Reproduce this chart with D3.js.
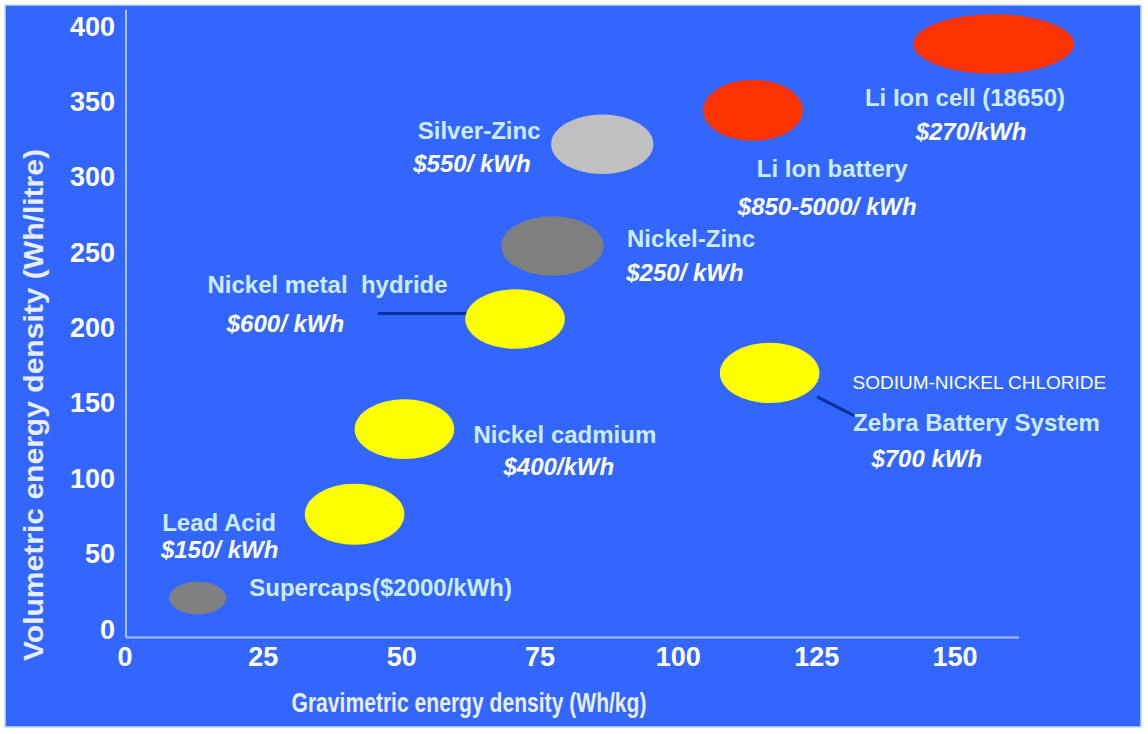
<!DOCTYPE html>
<html><head><meta charset="utf-8">
<script src="https://cdn.jsdelivr.net/npm/d3@7"></script>
<style>body{margin:0;background:#fff}</style>
</head><body><svg id="c" width="1148" height="734"></svg>
<script>
// ---- data ----
const batteries = ["Supercaps","Lead Acid","Nickel cadmium","Nickel metal hydride","Nickel-Zinc","Silver-Zinc","Li Ion battery","Li Ion cell (18650)","Zebra"];
const gravMin = [8, 32.5, 41.5, 61.5, 68, 77, 104.5, 142.5, 107.5];   // Wh/kg
const gravMax = [18.3, 50.5, 59.5, 79.5, 86.5, 95.5, 122.5, 171.5, 125.5];
const volMin  = [10.5, 56.5, 113.5, 186.5, 235, 302.5, 324.5, 369, 150.5]; // Wh/litre
const volMax  = [32, 97, 153, 226, 274.5, 342, 365, 408.5, 190.5];
const fills   = ["#808080","#FFFF00","#FFFF00","#FFFF00","#7F7F7F","#C0C0C0","#FF3300","#FF3300","#FFFF00"];
const xTicks = [0,25,50,75,100,125,150];
const yTicks = [0,50,100,150,200,250,300,350,400];
// annotation texts (anchor in data units)
const labelText = ["Li Ion cell (18650)","Li Ion battery","Silver-Zinc","Nickel-Zinc","Nickel metal  hydride","Nickel cadmium","Lead Acid","Supercaps($2000/kWh)","Zebra Battery System"];
const labelX = [151.8,127.8,64.0,102.3,36.6,79.5,17.0,46.2,153.9];
const labelY = [347.6,300.5,325.5,254.1,223.5,124.0,65.5,22.6,132.0];
const priceText = ["$270/kWh","$850-5000/ kWh","$550/ kWh","$250/ kWh","$600/ kWh","$400/kWh","$150/ kWh","$700 kWh"];
const priceX = [152.9,126.9,62.7,101.2,29.0,78.4,17.1,144.9];
const priceY = [325.0,275.3,303.8,231.6,197.7,102.8,48.0,108.1];
const noteText = ["SODIUM-NICKEL CHLORIDE"];
const noteX = [154.4], noteY = [159.9];
const leaders = [[[45.7,210.0],[61.8,210.0]],[[125.1,154.6],[131.9,142.0]]];

// ---- drawing ----
const svg = d3.select("#c");
const x = d3.scaleLinear().domain([0,150]).range([125,955]);
const y = d3.scaleLinear().domain([0,400]).range([630,27]);
const xEnd = x.invert(1019), yBot = y.invert(637.5), yTop = y.invert(9.5);
const font = "'Liberation Sans', Arial, sans-serif";

svg.append("rect").attr("x",5).attr("y",5).attr("width",1136).attr("height",722)
  .attr("fill","#3366FF").attr("stroke","#BFDDF7").attr("stroke-width",1.5);

// axis lines
svg.append("line").attr("x1",x(0)+1).attr("x2",x(0)+1).attr("y1",y(yTop)).attr("y2",y(yBot))
  .attr("stroke","#A9C1F2").attr("stroke-width",2);
svg.append("line").attr("x1",x(0)+1).attr("x2",x(xEnd)).attr("y1",y(yBot)).attr("y2",y(yBot))
  .attr("stroke","#A9C1F2").attr("stroke-width",2);

// tick labels
svg.append("g").selectAll("text").data(xTicks).join("text")
  .attr("x",d=>x(d)).attr("y",666).attr("text-anchor","middle")
  .attr("font-family",font).attr("font-weight","bold").attr("font-size",27)
  .attr("fill","#fff").text(d=>d);
svg.append("g").selectAll("text").data(yTicks).join("text")
  .attr("x",115).attr("y",d=>y(d)+8.5).attr("text-anchor","end")
  .attr("font-family",font).attr("font-weight","bold").attr("font-size",27)
  .attr("fill","#fff").text(d=>d);

// axis titles
svg.append("text").attr("x",469).attr("y",712).attr("text-anchor","middle")
  .attr("font-family",font).attr("font-weight","bold").attr("font-size",27)
  .attr("textLength",355).attr("lengthAdjust","spacingAndGlyphs")
  .attr("fill","#E6EEFF").text("Gravimetric energy density (Wh/kg)");
svg.append("text").attr("transform","translate(43,405) rotate(-90)").attr("text-anchor","middle")
  .attr("font-family",font).attr("font-weight","bold").attr("font-size",27)
  .attr("textLength",512).attr("lengthAdjust","spacingAndGlyphs")
  .attr("fill","#E6EEFF").text("Volumetric energy density (Wh/litre)");

// leader lines
svg.append("g").selectAll("line").data(leaders).join("line")
  .attr("x1",d=>x(d[0][0])).attr("y1",d=>y(d[0][1])).attr("x2",d=>x(d[1][0])).attr("y2",d=>y(d[1][1]))
  .attr("stroke","#003399").attr("stroke-width",3);

// ellipses
svg.append("g").selectAll("ellipse").data(batteries).join("ellipse")
  .attr("cx",(d,i)=>(x(gravMin[i])+x(gravMax[i]))/2)
  .attr("cy",(d,i)=>(y(volMin[i])+y(volMax[i]))/2)
  .attr("rx",(d,i)=>(x(gravMax[i])-x(gravMin[i]))/2)
  .attr("ry",(d,i)=>(y(volMin[i])-y(volMax[i]))/2)
  .attr("fill",(d,i)=>fills[i]);

// labels
svg.append("g").selectAll("text").data(labelText).join("text")
  .attr("x",(d,i)=>x(labelX[i])).attr("y",(d,i)=>y(labelY[i])).attr("text-anchor","middle")
  .attr("font-family",font).attr("font-weight","bold").attr("font-size",24)
  .attr("fill","#CCECFF").style("white-space","pre").text(d=>d);
svg.append("g").selectAll("text").data(priceText).join("text")
  .attr("x",(d,i)=>x(priceX[i])).attr("y",(d,i)=>y(priceY[i])).attr("text-anchor","middle")
  .attr("font-family",font).attr("font-weight","bold").attr("font-style","italic").attr("font-size",24)
  .attr("fill","#FFFFFF").text(d=>d);
svg.append("g").selectAll("text").data(noteText).join("text")
  .attr("x",(d,i)=>x(noteX[i])).attr("y",(d,i)=>y(noteY[i])).attr("text-anchor","middle")
  .attr("font-family",font).attr("font-size",19)
  .attr("fill","#FFFFFF").text(d=>d);
</script></body></html>
